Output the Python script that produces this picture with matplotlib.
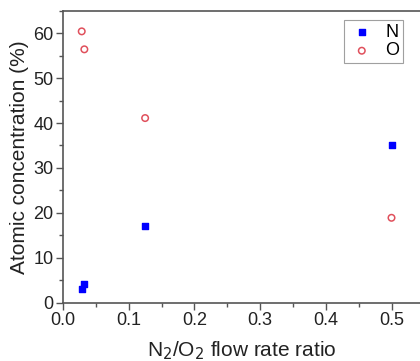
import matplotlib
matplotlib.use("Agg")
import matplotlib.pyplot as plt
from matplotlib.ticker import MultipleLocator

plt.rcParams['font.family'] = ['Liberation Sans', 'DejaVu Sans']

ratio_n = [0.0285, 0.0325, 0.125, 0.5]
conc_n = [3.0, 4.1, 17.0, 35.0]
ratio_o = [0.0285, 0.0325, 0.125, 0.5]
conc_o = [60.4, 56.4, 41.1, 18.9]

fig = plt.figure(figsize=(4.2, 3.61), dpi=100)
ax = fig.add_axes([63 / 420, 1 - 302.7 / 361, 1 - 63 / 420, (302.7 - 10.7) / 361])

ax.scatter(ratio_n, conc_n, marker='s', s=22, color='#0000ff', label='N', zorder=3)
ax.scatter(ratio_o, conc_o, marker='o', s=22, facecolors='none',
           edgecolors='#e0505c', linewidths=1.1, label='O', zorder=3)

ax.set_xlim(0, 357 / 657)
ax.set_ylim(0, 65)
ax.xaxis.set_major_locator(MultipleLocator(0.1))
ax.xaxis.set_minor_locator(MultipleLocator(0.05))
ax.yaxis.set_major_locator(MultipleLocator(10))
ax.yaxis.set_minor_locator(MultipleLocator(5))
ax.set_xticks([0, 0.1, 0.2, 0.3, 0.4, 0.5])
ax.set_xticklabels(['0.0', '0.1', '0.2', '0.3', '0.4', '0.5'])

ax.spines['right'].set_visible(False)
for s in ['left', 'bottom', 'top']:
    ax.spines[s].set_color('#555555')
    ax.spines[s].set_linewidth(1.2)
ax.tick_params(which='major', direction='out', length=5, width=1, color='#555555',
               labelsize=13, labelcolor='#222222', pad=2)
ax.tick_params(which='minor', direction='out', length=3, width=1, color='#555555')
ax.tick_params(top=False, right=False, which='both')

ax.set_xlabel('N$_2$/O$_2$ flow rate ratio', fontsize=15, color='#222222', labelpad=7)
ax.set_ylabel('Atomic concentration (%)', fontsize=15, color='#222222', labelpad=3)

leg = ax.legend(loc='upper right', bbox_to_anchor=(0.952, 0.968), fontsize=13,
                frameon=True, fancybox=False, handletextpad=0.5, borderaxespad=0,
                borderpad=0.2, labelspacing=0.1, handlelength=1.6)
leg.get_frame().set_edgecolor('#888888')
leg.get_frame().set_linewidth(0.8)

fig.savefig('out.png', dpi=100)
